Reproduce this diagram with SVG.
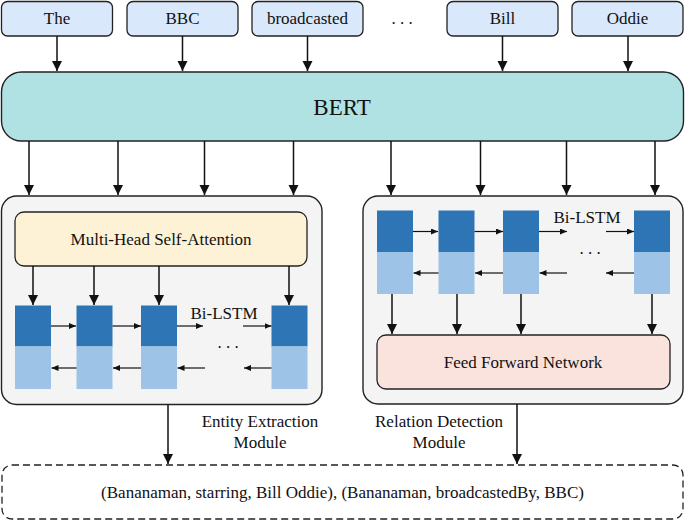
<svg xmlns="http://www.w3.org/2000/svg" width="685" height="522" viewBox="0 0 685 522" font-family="'Liberation Serif', 'DejaVu Serif', serif">
<style>
text{font-family:'Liberation Serif','DejaVu Serif',serif;fill:#111;}
.tok{fill:#dae8fc;stroke:#222;stroke-width:1.3;}
.t17{font-size:17px;text-anchor:middle;dominant-baseline:central;}
.dk{fill:#2e75b6;}
.lt{fill:#9dc3e6;}
.arr{stroke:#111;stroke-width:1.5;fill:none;marker-end:url(#ah);}
.sarr{stroke:#111;stroke-width:1.2;fill:none;marker-end:url(#sah);}
</style>
<defs>
<marker id="ah" markerUnits="userSpaceOnUse" markerWidth="10" markerHeight="11" refX="10" refY="5" orient="auto"><path d="M0,0 L10,5 L0,10 z" fill="#111"/></marker>
<marker id="sah" markerUnits="userSpaceOnUse" markerWidth="7" markerHeight="7" refX="7" refY="3" orient="auto"><path d="M0,0 L7,3 L0,6 z" fill="#111"/></marker>
</defs>
<rect width="685" height="522" fill="#fff"/>
<g id="tokens">
<g id="tok-the"><rect class="tok" x="1.5" y="1.5" width="111" height="34.5" rx="6"/><text class="t17" x="57" y="18.5">The</text></g>
<g id="tok-bbc"><rect class="tok" x="127" y="1.5" width="111" height="34.5" rx="6"/><text class="t17" x="182.5" y="18.5">BBC</text></g>
<g id="tok-broadcasted"><rect class="tok" x="252" y="1.5" width="111" height="34.5" rx="6"/><text class="t17" x="307.5" y="18.5">broadcasted</text></g>
<text class="t17" x="402" y="18.5">. . .</text>
<g id="tok-bill"><rect class="tok" x="447" y="1.5" width="111" height="34.5" rx="6"/><text class="t17" x="502.5" y="18.5">Bill</text></g>
<g id="tok-oddie"><rect class="tok" x="572" y="1.5" width="111" height="34.5" rx="6"/><text class="t17" x="627.5" y="18.5">Oddie</text></g>
</g>
<g id="bert"><rect x="1.5" y="72" width="682" height="69" rx="20" fill="#b0e2e4" stroke="#222" stroke-width="1.4"/><text x="342" y="107" style="font-size:23px;text-anchor:middle;dominant-baseline:central;">BERT</text></g>
<g id="entity-module">
<rect x="1.5" y="196" width="320.5" height="208.5" rx="15" fill="#f4f4f4" stroke="#222" stroke-width="1.4"/>
<g id="mhsa"><rect x="15" y="212" width="292" height="54" rx="9" fill="#fdf2d6" stroke="#222" stroke-width="1.3"/><text class="t17" x="161" y="239">Multi-Head Self-Attention</text></g>
<g id="lstm-left">
<rect class="dk" x="15" y="305.5" width="36" height="41"/><rect class="lt" x="15" y="346.5" width="36" height="42.5"/>
<rect class="dk" x="76.5" y="305.5" width="36" height="41"/><rect class="lt" x="76.5" y="346.5" width="36" height="42.5"/>
<rect class="dk" x="141" y="305.5" width="36" height="41"/><rect class="lt" x="141" y="346.5" width="36" height="42.5"/>
<rect class="dk" x="271.5" y="305.5" width="36" height="41"/><rect class="lt" x="271.5" y="346.5" width="36" height="42.5"/>
<text x="224" y="319" style="font-size:17px;text-anchor:middle;">Bi-LSTM</text>
<text class="t17" x="228" y="342">. . .</text>
</g>
<text x="260" y="427" style="font-size:17px;text-anchor:middle;">Entity Extraction</text>
<text x="260" y="448" style="font-size:17px;text-anchor:middle;">Module</text>
</g>
<g id="relation-module">
<rect x="363" y="196" width="320" height="208" rx="15" fill="#f4f4f4" stroke="#222" stroke-width="1.4"/>
<g id="lstm-right">
<rect class="dk" x="377" y="210.5" width="36" height="41.5"/><rect class="lt" x="377" y="252" width="36" height="42"/>
<rect class="dk" x="438.5" y="210.5" width="36" height="41.5"/><rect class="lt" x="438.5" y="252" width="36" height="42"/>
<rect class="dk" x="503" y="210.5" width="36" height="41.5"/><rect class="lt" x="503" y="252" width="36" height="42"/>
<rect class="dk" x="634" y="210.5" width="36" height="41.5"/><rect class="lt" x="634" y="252" width="36" height="42"/>
<text x="587" y="223" style="font-size:17px;text-anchor:middle;">Bi-LSTM</text>
<text class="t17" x="590" y="248">. . .</text>
</g>
<g id="ffn"><rect x="377" y="335" width="293" height="54" rx="9" fill="#fae3dc" stroke="#222" stroke-width="1.3"/><text class="t17" x="523" y="362">Feed Forward Network</text></g>
<text x="439" y="427" style="font-size:17px;text-anchor:middle;">Relation Detection</text>
<text x="439" y="448" style="font-size:17px;text-anchor:middle;">Module</text>
</g>
<g id="output"><rect x="2" y="465" width="681" height="54" rx="10" fill="#fff" stroke="#222" stroke-width="1.3" stroke-dasharray="7,4"/><text class="t17" x="342.5" y="492">(Bananaman, starring, Bill Oddie), (Bananaman, broadcastedBy, BBC)</text></g>
<g id="connectors">
<path class="arr" d="M57,36 V71"/>
<path class="arr" d="M182.5,36 V71"/>
<path class="arr" d="M307.5,36 V71"/>
<path class="arr" d="M502.5,36 V71"/>
<path class="arr" d="M628,36 V71"/>
<path class="arr" d="M29,141 V195"/>
<path class="arr" d="M118,141 V195"/>
<path class="arr" d="M204.5,141 V195"/>
<path class="arr" d="M293.5,141 V195"/>
<path class="arr" d="M391,141 V195"/>
<path class="arr" d="M480.5,141 V195"/>
<path class="arr" d="M566.5,141 V195"/>
<path class="arr" d="M655,141 V195"/>
<path class="arr" d="M33,266 V305"/>
<path class="arr" d="M94,266 V305"/>
<path class="arr" d="M159,266 V305"/>
<path class="arr" d="M289,266 V305"/>
<path class="sarr" d="M51,326 H76"/>
<path class="sarr" d="M112.5,326 H141"/>
<path class="sarr" d="M177,326 H203"/>
<path class="sarr" d="M243,326 H271.5"/>
<path class="sarr" d="M76.5,368 H51.5"/>
<path class="sarr" d="M141,368 H113"/>
<path class="sarr" d="M205,368 H177.5"/>
<path class="sarr" d="M271.5,368 H244"/>
<path class="sarr" d="M413,231.5 H438"/>
<path class="sarr" d="M474.5,231.5 H503"/>
<path class="sarr" d="M539,231.5 H567"/>
<path class="sarr" d="M606,231.5 H634"/>
<path class="sarr" d="M438.5,273 H413.5"/>
<path class="sarr" d="M503,273 H475"/>
<path class="sarr" d="M567,273 H539.5"/>
<path class="sarr" d="M634,273 H606"/>
<path class="arr" d="M392,294 V334"/>
<path class="arr" d="M457,294 V334"/>
<path class="arr" d="M521,294 V334"/>
<path class="arr" d="M652,294 V334"/>
<path class="arr" d="M168,405 V464"/>
<path class="arr" d="M517,404 V464"/>
</g>
</svg>
